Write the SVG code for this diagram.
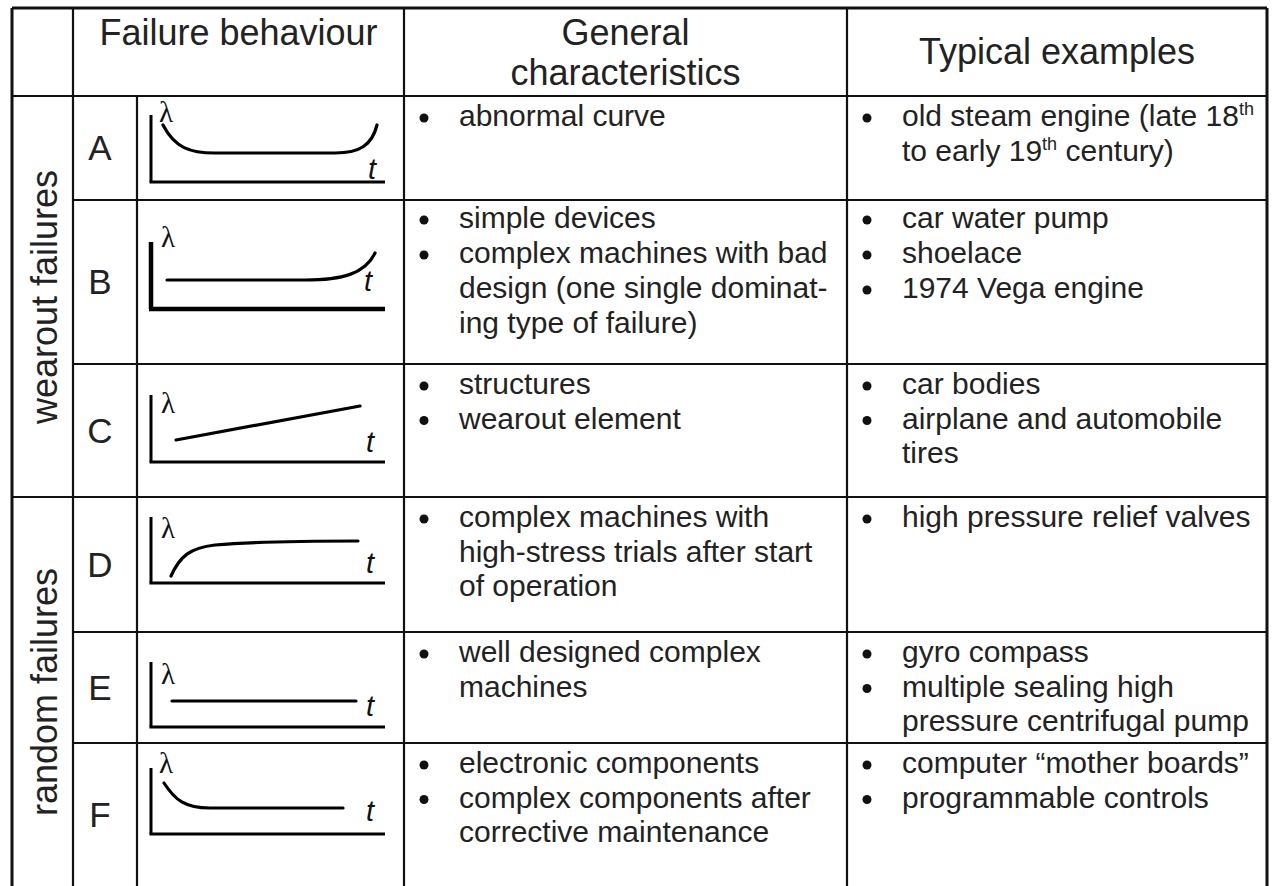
<svg xmlns="http://www.w3.org/2000/svg" width="1272" height="886" viewBox="0 0 1272 886">
<style>
  .grid { stroke: #111; stroke-width: 2.2; fill: none; }
  .outer { stroke: #111; stroke-width: 3; fill: none; }
  .hdr { font-family: "Liberation Sans", Arial, sans-serif; font-size: 36px; fill: #222; text-anchor: middle; }
  .cat { font-family: "Liberation Sans", Arial, sans-serif; font-size: 36px; fill: #222; text-anchor: middle; }
  .let { font-family: "Liberation Sans", Arial, sans-serif; font-size: 35px; fill: #222; text-anchor: middle; }
  .body { font-family: "Liberation Sans", Arial, sans-serif; font-size: 30px; fill: #222; }
  .sup { font-size: 18px; }
  .bul { fill: #111; }
  .axis { stroke: #000; stroke-width: 3; fill: none; stroke-linecap: butt; }
  .axisB { stroke: #000; stroke-width: 4.5; fill: none; }
  .curve { stroke: #000; stroke-width: 3.2; fill: none; stroke-linecap: round; }
  .lam { font-family: "Liberation Serif", "Times New Roman", serif; font-size: 29px; fill: #111; }
  .t { font-family: "Liberation Sans", Arial, sans-serif; font-style: italic; font-size: 29px; fill: #111; }
</style>

<g id="table-grid">
  <line class="outer" x1="12" y1="8" x2="1267" y2="8"/>
  <line class="outer" x1="12" y1="8" x2="12" y2="886"/>
  <line class="outer" x1="1267" y1="8" x2="1267" y2="886"/>
  <line class="grid" x1="73" y1="8" x2="73" y2="886"/>
  <line class="grid" x1="137" y1="96" x2="137" y2="886"/>
  <line class="grid" x1="404" y1="8" x2="404" y2="886"/>
  <line class="grid" x1="847" y1="8" x2="847" y2="886"/>
  <line class="grid" x1="12" y1="96" x2="1267" y2="96"/>
  <line class="grid" x1="73" y1="200" x2="1267" y2="200"/>
  <line class="grid" x1="73" y1="364" x2="1267" y2="364"/>
  <line class="grid" x1="12" y1="497" x2="1267" y2="497"/>
  <line class="grid" x1="73" y1="632" x2="1267" y2="632"/>
  <line class="grid" x1="73" y1="743" x2="1267" y2="743"/>
</g>

<g id="header">
  <text class="hdr" x="238.5" y="45">Failure behaviour</text>
  <text class="hdr" x="625.5" y="45">General</text>
  <text class="hdr" x="625.5" y="85">characteristics</text>
  <text class="hdr" x="1057" y="64">Typical examples</text>
</g>

<g id="categories">
  <text class="cat" transform="translate(57,297) rotate(-90)">wearout failures</text>
  <text class="cat" transform="translate(57,692) rotate(-90)">random failures</text>
</g>

<g id="row-A">
  <text class="let" x="100" y="160">A</text>
  <line class="axis" x1="151" y1="115" x2="151" y2="182"/>
  <line class="axis" x1="149.5" y1="182" x2="385" y2="182"/>
  <text class="lam" x="159" y="122">λ</text>
  <path class="curve" d="M163,125 C175,148 190,153 215,153 L335,153 C360,153 372,145 377,125"/>
  <text class="t" x="368" y="179">t</text>
  <circle class="bul" cx="424" cy="118" r="4.5"/>
  <text class="body" x="459" y="126">abnormal curve</text>
  <circle class="bul" cx="867" cy="118" r="4.5"/>
  <text class="body" x="902" y="126">old steam engine (late 18<tspan class="sup" dy="-11">th</tspan></text>
  <text class="body" x="902" y="160.5">to early 19<tspan class="sup" dy="-11">th</tspan><tspan dy="11"> century)</tspan></text>
</g>

<g id="row-B">
  <text class="let" x="100" y="294">B</text>
  <line class="axisB" x1="151" y1="242" x2="151" y2="309"/>
  <line class="axisB" x1="149" y1="309" x2="385" y2="309"/>
  <text class="lam" x="161" y="247">λ</text>
  <path class="curve" d="M167,280 L305,280 C342,280 365,274 375,253"/>
  <text class="t" x="364" y="291">t</text>
  <circle class="bul" cx="424" cy="220" r="4.5"/>
  <text class="body" x="459" y="228">simple devices</text>
  <circle class="bul" cx="424" cy="255" r="4.5"/>
  <text class="body" x="459" y="263">complex machines with bad</text>
  <text class="body" x="459" y="298">design (one single dominat-</text>
  <text class="body" x="459" y="333">ing type of failure)</text>
  <circle class="bul" cx="867" cy="220" r="4.5"/>
  <text class="body" x="902" y="228">car water pump</text>
  <circle class="bul" cx="867" cy="255" r="4.5"/>
  <text class="body" x="902" y="263">shoelace</text>
  <circle class="bul" cx="867" cy="290" r="4.5"/>
  <text class="body" x="902" y="298">1974 Vega engine</text>
</g>

<g id="row-C">
  <text class="let" x="100" y="442.5">C</text>
  <line class="axis" x1="151" y1="395" x2="151" y2="462"/>
  <line class="axis" x1="149.5" y1="462" x2="385" y2="462"/>
  <text class="lam" x="161" y="413">λ</text>
  <path class="curve" d="M176,440 L360,406"/>
  <text class="t" x="366" y="452">t</text>
  <circle class="bul" cx="424" cy="386" r="4.5"/>
  <text class="body" x="459" y="394">structures</text>
  <circle class="bul" cx="424" cy="420.5" r="4.5"/>
  <text class="body" x="459" y="428.5">wearout element</text>
  <circle class="bul" cx="867" cy="386" r="4.5"/>
  <text class="body" x="902" y="394">car bodies</text>
  <circle class="bul" cx="867" cy="420.5" r="4.5"/>
  <text class="body" x="902" y="428.5">airplane and automobile</text>
  <text class="body" x="902" y="463">tires</text>
</g>

<g id="row-D">
  <text class="let" x="100" y="577">D</text>
  <line class="axis" x1="151" y1="517" x2="151" y2="583"/>
  <line class="axis" x1="149.5" y1="583" x2="385" y2="583"/>
  <text class="lam" x="161" y="538">λ</text>
  <path class="curve" d="M171,576 C180,556 190,548 215,545 C250,542 300,541 358,541"/>
  <text class="t" x="366" y="573">t</text>
  <circle class="bul" cx="424" cy="519" r="4.5"/>
  <text class="body" x="459" y="527">complex machines with</text>
  <text class="body" x="459" y="561.5">high-stress trials after start</text>
  <text class="body" x="459" y="596">of operation</text>
  <circle class="bul" cx="867" cy="519" r="4.5"/>
  <text class="body" x="902" y="527">high pressure relief valves</text>
</g>

<g id="row-E">
  <text class="let" x="100" y="700">E</text>
  <line class="axis" x1="151" y1="662" x2="151" y2="727"/>
  <line class="axis" x1="149.5" y1="727" x2="385" y2="727"/>
  <text class="lam" x="161" y="684">λ</text>
  <path class="curve" d="M172,701 L356,701"/>
  <text class="t" x="366" y="716">t</text>
  <circle class="bul" cx="424" cy="654" r="4.5"/>
  <text class="body" x="459" y="662">well designed complex</text>
  <text class="body" x="459" y="696.5">machines</text>
  <circle class="bul" cx="867" cy="654" r="4.5"/>
  <text class="body" x="902" y="662">gyro compass</text>
  <circle class="bul" cx="867" cy="688.5" r="4.5"/>
  <text class="body" x="902" y="696.5">multiple sealing high</text>
  <text class="body" x="902" y="731">pressure centrifugal pump</text>
</g>

<g id="row-F">
  <text class="let" x="100" y="827">F</text>
  <line class="axis" x1="151" y1="768" x2="151" y2="834"/>
  <line class="axis" x1="149.5" y1="834" x2="385" y2="834"/>
  <text class="lam" x="159" y="773">λ</text>
  <path class="curve" d="M164,783 C175,800 185,808 210,808 L343,808"/>
  <text class="t" x="366" y="821">t</text>
  <circle class="bul" cx="424" cy="765" r="4.5"/>
  <text class="body" x="459" y="773">electronic components</text>
  <circle class="bul" cx="424" cy="799.5" r="4.5"/>
  <text class="body" x="459" y="807.5">complex components after</text>
  <text class="body" x="459" y="842">corrective maintenance</text>
  <circle class="bul" cx="867" cy="765" r="4.5"/>
  <text class="body" x="902" y="773">computer “mother boards”</text>
  <circle class="bul" cx="867" cy="799.5" r="4.5"/>
  <text class="body" x="902" y="807.5">programmable controls</text>
</g>
</svg>
